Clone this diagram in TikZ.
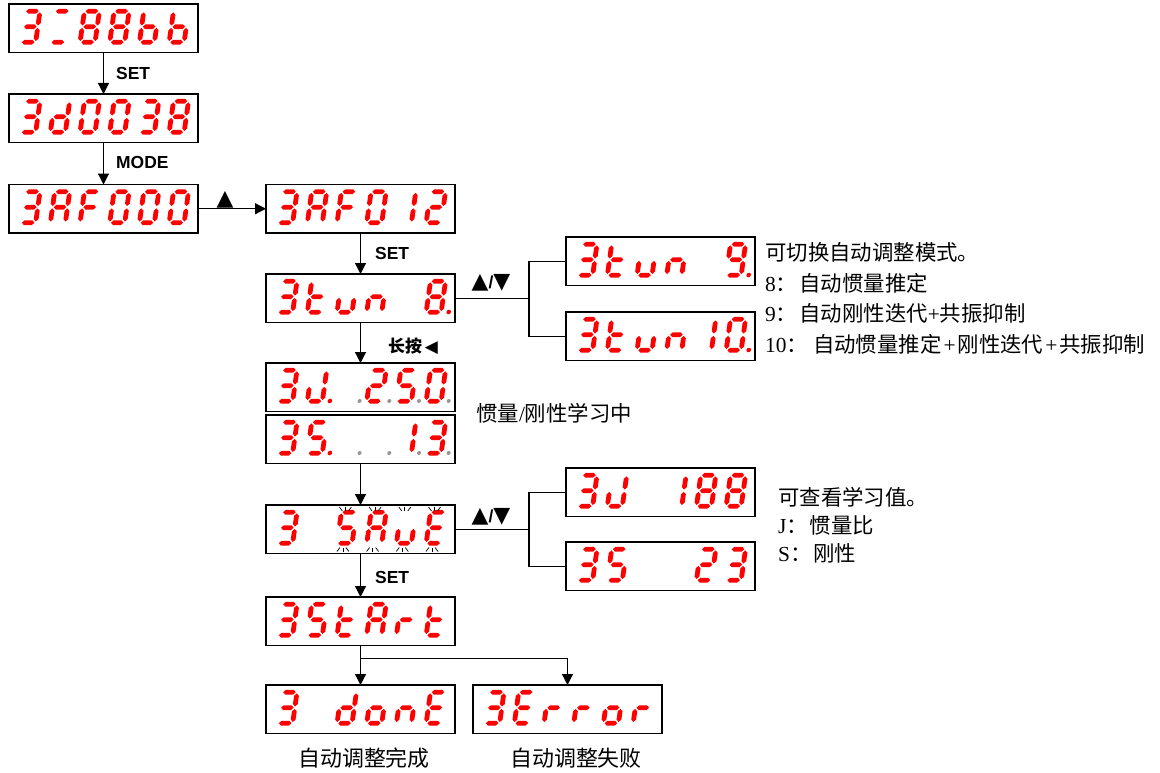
\documentclass[tikz,border=0pt]{standalone}
\usepackage{fontspec}
\setmainfont{Liberation Serif}
\setsansfont{Liberation Sans}
\newfontfamily\cjk{Noto Sans CJK SC}
\newfontfamily\sym{DejaVu Sans}
\usetikzlibrary{arrows.meta,calc}
\definecolor{ledred}{RGB}{255,0,0}
\definecolor{dpgray}{RGB}{150,150,150}
\makeatletter
\newcommand\sevseg[3]{%
\begin{scope}[shift={({#1},{#2})},xslant=0.14]
\in@{a}{#3}\ifin@\fill[ledred] (1.2,0)--(3.6,-2.4)--(11.4,-2.4)--(13.8,0)--(11.4,2.4)--(3.6,2.4)--cycle;\fi
\in@{g}{#3}\ifin@\fill[ledred] (1.2,15.5)--(3.6,13.1)--(11.4,13.1)--(13.8,15.5)--(11.4,17.9)--(3.6,17.9)--cycle;\fi
\in@{d}{#3}\ifin@\fill[ledred] (1.2,31)--(3.6,28.6)--(11.4,28.6)--(13.8,31)--(11.4,33.4)--(3.6,33.4)--cycle;\fi
\in@{f}{#3}\ifin@\fill[ledred] (0,1.2)--(2.4,3.6)--(2.4,11.9)--(0,14.3)--(-2.4,11.9)--(-2.4,3.6)--cycle;\fi
\in@{e}{#3}\ifin@\fill[ledred] (0,16.7)--(2.4,19.1)--(2.4,27.4)--(0,29.8)--(-2.4,27.4)--(-2.4,19.1)--cycle;\fi
\in@{b}{#3}\ifin@\fill[ledred] (15,1.2)--(17.4,3.6)--(17.4,11.9)--(15,14.3)--(12.6,11.9)--(12.6,3.6)--cycle;\fi
\in@{c}{#3}\ifin@\fill[ledred] (15,16.7)--(17.4,19.1)--(17.4,27.4)--(15,29.8)--(12.6,27.4)--(12.6,19.1)--cycle;\fi
\in@{p}{#3}\ifin@\fill[ledred] (22.5,30.8) circle[radius=2.3];\fi
\in@{q}{#3}\ifin@\fill[dpgray] (22.5,30.8) circle[radius=2];\fi
\end{scope}}
\makeatother
\newcommand\ledbox[9]{%
 \node[disp] (#1) at (#2,#3) {};
 \sevseg{#2+16}{#3+7.2}{#4}%
 \sevseg{#2+45.7}{#3+7.2}{#5}%
 \sevseg{#2+75.4}{#3+7.2}{#6}%
 \sevseg{#2+105.1}{#3+7.2}{#7}%
 \sevseg{#2+134.8}{#3+7.2}{#8}%
 \sevseg{#2+164.5}{#3+7.2}{#9}%
}
\newcommand\burst[3]{%
 \draw[ray] ({#1-2},{#2+2}) -- ({#1+1},{#2+6});
 \draw[ray] ({#1+4},{#2+1.5}) -- ({#1+4},{#2+6});
 \draw[ray] ({#1+10},{#2+2}) -- ({#1+7},{#2+6});
 \draw[ray] ({#1-4.5},{#3-2}) -- ({#1-1.5},{#3-6});
 \draw[ray] ({#1+1.5},{#3-1.5}) -- ({#1+1.5},{#3-6});
 \draw[ray] ({#1+7.5},{#3-2}) -- ({#1+4.5},{#3-6});
}
\tikzset{
 disp/.style={draw=black, line width=1.2bp, minimum width=189bp, minimum height=48.5bp, inner sep=0pt, outer sep=0pt, anchor=north west},
 arr/.style={-{Triangle[length=11bp,width=11bp]}, line width=1.2bp},
 conn/.style={line width=1.2bp},
 ray/.style={line width=0.7bp, black},
 lbl/.style={font=\sffamily\bfseries\fontsize{17.5}{20}\selectfont, inner sep=0pt, anchor=west},
 txt/.style={font=\fontsize{21.5}{24}\selectfont, inner sep=0pt, anchor=west},
 sym/.style={font=\sym\fontsize{22}{22}\selectfont, inner sep=0pt},
}
\begin{document}
\begin{tikzpicture}[x=1bp,y=-1bp]
\fill[white] (0,0) rectangle (1160,773);
\useasboundingbox (0,0) rectangle (1160,773);
% displays
\ledbox{b1}{9}{4}{abcdg}{ad}{abcdefg}{abcdefg}{cdefg}{cdefg}
\ledbox{b2}{9}{94}{abcdg}{bcdeg}{abcdef}{abcdef}{abcdg}{abcdefg}
\ledbox{b3}{9}{184.5}{abcdg}{abcefg}{aefg}{abcdef}{abcdef}{abcdef}
\ledbox{b4}{266}{184.5}{abcdg}{abcefg}{aefg}{abcdef}{bc}{abdeg}
\ledbox{b5}{266}{274}{abcdg}{defg}{cde}{ceg}{}{abcdefgp}
\ledbox{b6}{566}{237}{abcdg}{defg}{cde}{ceg}{}{abcdfgp}
\ledbox{b7}{566}{312}{abcdg}{defg}{cde}{ceg}{bc}{abcdefp}
\ledbox{b8}{266}{363}{abcdg}{bcdep}{q}{abdegq}{acdfgq}{abcdefq}
\ledbox{b9}{266}{415}{abcdg}{acdfgp}{q}{q}{bcq}{abcdgq}
\ledbox{b10}{266}{505}{abcdg}{}{acdfg}{abcefg}{cde}{adefg}
\ledbox{b11}{266}{597}{abcdg}{acdfg}{defg}{abcefg}{eg}{defg}
\ledbox{b12}{566}{468}{abcdg}{bcde}{}{bc}{abcdefg}{abcdefg}
\ledbox{b13}{566}{542}{abcdg}{acdfg}{}{}{abdeg}{abcdg}
\ledbox{b14}{266}{685}{abcdg}{}{bcdeg}{cdeg}{ceg}{adefg}
\ledbox{b15}{473}{685}{abcdg}{adefg}{eg}{eg}{cdeg}{eg}
% blinking marks
\burst{341.4}{505}{553.5}
\burst{371.1}{505}{553.5}
\burst{400.8}{505}{553.5}
\burst{430.5}{505}{553.5}
% connectors
\draw[arr] (b1.south) -- (b2.north);
\draw[arr] (b2.south) -- (b3.north);
\draw[arr] (b3.east) -- (b4.west);
\draw[arr] (b4.south) -- (b5.north);
\draw[arr] (b5.south) -- (b8.north);
\draw[arr] (b9.south) -- (b10.north);
\draw[arr] (b10.south) -- (b11.north);
\draw[arr] (b11.south) -- (b14.north);
\coordinate (j1) at ([xshift=74bp]b5.east);
\coordinate (j2) at ([xshift=74bp]b10.east);
\coordinate (j3) at ([yshift=-13bp]b11.south);
\draw[conn] (b5.east) -- (j1) |- (b6.west);
\draw[conn] (j1) |- (b7.west);
\draw[conn] (b10.east) -- (j2) |- (b12.west);
\draw[conn] (j2) |- (b13.west);
\draw[arr] (j3) -| (b15.north);
% labels
\node[lbl] (l1) at (116,73) {SET};
\node[lbl] (l2) at (116,162) {MODE};
\node[sym] (l3) at (225,200) {▲};
\node[lbl] (l4) at (375,253) {SET};
\node[inner sep=0pt] (l5) at (491,283) {{\sym\fontsize{22}{22}\selectfont ▲}{\sffamily\bfseries\fontsize{17.5}{20}\selectfont /}{\sym\fontsize{22}{22}\selectfont ▼}};
\node[inner sep=0pt, anchor=west] (l6) at (388,346) {{\cjk\bfseries\fontsize{17}{19}\selectfont 长按}{\sym\fontsize{17}{17}\selectfont\,◀}};
\node[inner sep=0pt] (l7) at (491,517) {{\sym\fontsize{22}{22}\selectfont ▲}{\sffamily\bfseries\fontsize{17.5}{20}\selectfont /}{\sym\fontsize{22}{22}\selectfont ▼}};
\node[lbl] (l8) at (375,577) {SET};
% texts
\node[txt] (t1) at (765,252) {{\cjk 可切换自动调整模式。}};
\node[txt] (t2) at (765,283) {8{\cjk ：}\hspace{2bp}{\cjk 自动惯量推定}};
\node[txt] (t3) at (765,313) {9{\cjk ：}\hspace{2bp}{\cjk 自动刚性迭代}+{\cjk 共振抑制}};
\node[txt] (t4) at (765,344) {10{\cjk ：}\hspace{5bp}{\cjk 自动惯量推定}\hspace{2bp}+\hspace{2bp}{\cjk 刚性迭代}\hspace{2bp}+\hspace{2bp}{\cjk 共振抑制}};
\node[txt] (t5) at (476,413) {{\cjk 惯量}/{\cjk 刚性学习中}};
\node[txt] (t6) at (778,497) {{\cjk 可查看学习值。}};
\node[txt] (t7) at (778,525) {J{\cjk ：}\hspace{2bp}{\cjk 惯量比}};
\node[txt] (t8) at (778,553) {S{\cjk ：}\hspace{2bp}{\cjk 刚性}};
\node[txt, anchor=center, font=\fontsize{22}{24}\selectfont] (t9) at (364,758) {{\cjk 自动调整完成}};
\node[txt, anchor=center, font=\fontsize{22}{24}\selectfont] (t10) at (576,758) {{\cjk 自动调整失败}};
\end{tikzpicture}
\end{document}
